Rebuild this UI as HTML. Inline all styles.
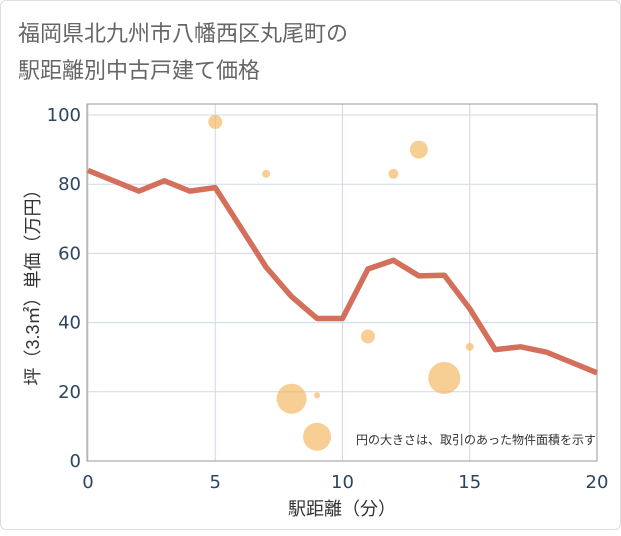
<!DOCTYPE html>
<html><head><meta charset="utf-8"><style>
body{margin:0;background:#fff;font-family:"Liberation Sans","Noto Sans CJK JP",sans-serif;}
#wrap{position:absolute;left:0;top:0;width:619px;height:528px;border:1px solid #ddd;border-radius:6px;background:#fff;}
</style></head><body>
<div id="wrap">
<svg width="621" height="530">
<text x="17" y="40" font-size="22" fill="#666">福岡県北九州市八幡西区丸尾町の</text>
<text x="17" y="77" font-size="22" fill="#666">駅距離別中古戸建て価格</text>
<g id="grid"></g>
<rect x="86" y="103" width="510" height="357" fill="none" stroke="#999"/>
<g id="bubbles"></g>
<polyline id="line" fill="none" stroke="#d46f5c" stroke-width="5.5" stroke-linejoin="round"/>
<g id="ticks"></g>
<text x="595" y="443" font-size="12" fill="#333" text-anchor="end">円の大きさは、取引のあった物件面積を示す</text>
<text x="341" y="514" font-size="18" fill="#333" text-anchor="middle">駅距離（分）</text>
<text transform="translate(38,282) rotate(-90)" font-size="18" fill="#333" text-anchor="middle">坪（3.3㎡）単価（万円）</text>
</svg></div>
<script>
const lineX=[0,1,2,3,4,5,6,7,8,9,10,11,12,13,14,15,16,17,18,19,20];
const lineY=[84,81,78,81,78,79,67.5,56,47.5,41.2,41.2,55.5,58,53.5,53.7,44,32.2,33,31.5,28.5,25.5];
const bubX=[5,7,12,13,11,15,14,8,9,9];
const bubY=[98,83,83,90,36,33,24,18,19,7];
const bubR=[7,4,5,9,7,4,16,15,3,14];
const xTicks=[0,5,10,15,20];
const yTicks=[0,20,40,60,80,100];
const NS="http://www.w3.org/2000/svg";
const sx=v=>87+v*(596-87)/20, sy=v=>460-v*3.46;
const grid=document.getElementById('grid'),ticks=document.getElementById('ticks'),bub=document.getElementById('bubbles');
function mk(tag,attrs,parent){const e=document.createElementNS(NS,tag);for(const k in attrs)e.setAttribute(k,attrs[k]);parent.appendChild(e);return e;}
xTicks.forEach(t=>{
 const l=mk('line',{x1:sx(t),x2:sx(t),y1:103,y2:460,stroke:'#cfd8e3'},grid);
 
 
 const tx=mk('text',{x:sx(t),y:487,'font-size':18,fill:'#2c4560','text-anchor':'middle','font-family':'DejaVu Sans, sans-serif'},ticks);
 tx.textContent=t;
 
 
});
yTicks.forEach(t=>{
 const l=mk('line',{x1:86,x2:596,y1:sy(t),y2:sy(t),stroke:'#cfd8e3'},grid);
 
 
 const tx=mk('text',{x:80,y:sy(t)+6,'font-size':18,fill:'#2c4560','text-anchor':'end','font-family':'DejaVu Sans, sans-serif'},ticks);
 tx.textContent=t;
 
 
});
bubX.forEach((x,i)=>{
 const c=mk('circle',{cx:sx(x),cy:sy(bubY[i]),r:bubR[i],fill:'#f2b45a','fill-opacity':0.65},bub);
 
 
});
document.getElementById('line').setAttribute('points',lineX.map((x,i)=>sx(x)+','+sy(lineY[i])).join(' '));
</script>
</body></html>
